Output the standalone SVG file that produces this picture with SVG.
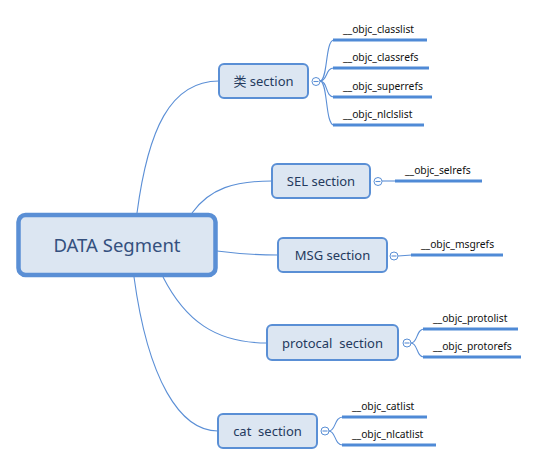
<svg xmlns="http://www.w3.org/2000/svg" width="539" height="465" viewBox="0 0 539 465">
<style>
.bg{fill:#ffffff}
.conn{fill:none;stroke:#5B8FD6;stroke-width:1.1}
.bar{fill:none;stroke:#4F8AD6;stroke-width:3}
.box{fill:#DCE6F2;stroke:#5A8FD5;stroke-width:2}
.root{fill:#DCE6F2;stroke:#5A8FD5;stroke-width:4.5}
.tog{fill:#ffffff;stroke:#5A8FD5;stroke-width:1}
.sec{font-family:"Noto Sans","Noto Sans CJK SC",sans-serif;font-size:13px;fill:#243A5E;text-anchor:middle}
.rt{font-family:"Noto Sans",sans-serif;font-size:18.5px;fill:#34507E;text-anchor:middle}
.leaf{font-family:"Noto Sans",sans-serif;font-size:10.3px;fill:#111111}
</style>
<rect class="bg" width="539" height="465"/>
<g id="connectors">
<path class="conn" d="M137,213 C148,130 170,81 219,81"/>
<path class="conn" d="M192,213 C210,188 235,181 272,181"/>
<path class="conn" d="M217,251 C240,254 260,255 278,255"/>
<path class="conn" d="M163,277 C185,320 215,343 267,343"/>
<path class="conn" d="M134,277 C148,380 180,431 218,431"/>
<path class="conn" d="M320,81 C328,81 325,40 334,40"/>
<path class="conn" d="M320,81 C328,81 325,68 334,68"/>
<path class="conn" d="M320,81 C328,81 325,97 334,97"/>
<path class="conn" d="M320,81 C328,81 325,125 334,125"/>
<path class="conn" d="M382,181 L396,181"/>
<path class="conn" d="M398,256 L412,255"/>
<path class="conn" d="M411,343 C418,343 416,329 424,329"/>
<path class="conn" d="M411,343 C418,343 416,357 424,357"/>
<path class="conn" d="M329,431 C336,431 334,417 343,417"/>
<path class="conn" d="M329,431 C336,431 334,445 343,445"/>
</g>
<g id="root">
<rect class="root" x="18.5" y="215" width="197" height="60" rx="7"/>
<text class="rt" x="117" y="251.5">DATA Segment</text>
</g>
<g id="class-section">
<rect class="box" x="219" y="64" width="89" height="34" rx="5"/>
<text class="sec" x="263.5" y="86">类 section</text>
<circle class="tog" cx="316" cy="81.5" r="4"/>
<line class="conn" x1="313.5" y1="81.5" x2="318.5" y2="81.5"/>
</g>
<g id="sel-section">
<rect class="box" x="272" y="164" width="98" height="34" rx="5"/>
<text class="sec" x="321" y="186">SEL section</text>
<circle class="tog" cx="378" cy="181.5" r="4"/>
<line class="conn" x1="375.5" y1="181.5" x2="380.5" y2="181.5"/>
</g>
<g id="msg-section">
<rect class="box" x="278" y="238" width="109" height="34" rx="5"/>
<text class="sec" x="332.5" y="260">MSG section</text>
<circle class="tog" cx="394" cy="256" r="4"/>
<line class="conn" x1="391.5" y1="256" x2="396.5" y2="256"/>
</g>
<g id="protocal-section">
<rect class="box" x="267" y="325" width="131" height="35" rx="5"/>
<text class="sec" x="332.5" y="347.5" xml:space="preserve">protocal  section</text>
<circle class="tog" cx="407" cy="343" r="4"/>
<line class="conn" x1="404.5" y1="343" x2="409.5" y2="343"/>
</g>
<g id="cat-section">
<rect class="box" x="218" y="414" width="99" height="34" rx="5"/>
<text class="sec" x="267.5" y="436" xml:space="preserve">cat  section</text>
<circle class="tog" cx="325" cy="431" r="4"/>
<line class="conn" x1="322.5" y1="431" x2="327.5" y2="431"/>
</g>
<g id="leaf-classlist"><line class="bar" x1="333" y1="40" x2="427" y2="40"/><text class="leaf" x="343" y="33">__objc_classlist</text></g>
<g id="leaf-classrefs"><line class="bar" x1="333" y1="68" x2="429" y2="68"/><text class="leaf" x="343" y="61">__objc_classrefs</text></g>
<g id="leaf-superrefs"><line class="bar" x1="333" y1="97" x2="432" y2="97"/><text class="leaf" x="343" y="90">__objc_superrefs</text></g>
<g id="leaf-nlclslist"><line class="bar" x1="333" y1="125" x2="424" y2="125"/><text class="leaf" x="343" y="118">__objc_nlclslist</text></g>
<g id="leaf-selrefs"><line class="bar" x1="395" y1="181" x2="482" y2="181"/><text class="leaf" x="405" y="174">__objc_selrefs</text></g>
<g id="leaf-msgrefs"><line class="bar" x1="411" y1="255" x2="503" y2="255"/><text class="leaf" x="421" y="248">__objc_msgrefs</text></g>
<g id="leaf-protolist"><line class="bar" x1="423" y1="329" x2="518" y2="329"/><text class="leaf" x="433" y="322">__objc_protolist</text></g>
<g id="leaf-protorefs"><line class="bar" x1="423" y1="357" x2="521" y2="357"/><text class="leaf" x="433" y="350">__objc_protorefs</text></g>
<g id="leaf-catlist"><line class="bar" x1="342" y1="417" x2="427" y2="417"/><text class="leaf" x="352" y="410">__objc_catlist</text></g>
<g id="leaf-nlcatlist"><line class="bar" x1="342" y1="445" x2="436" y2="445"/><text class="leaf" x="352" y="438">__objc_nlcatlist</text></g>
</svg>
